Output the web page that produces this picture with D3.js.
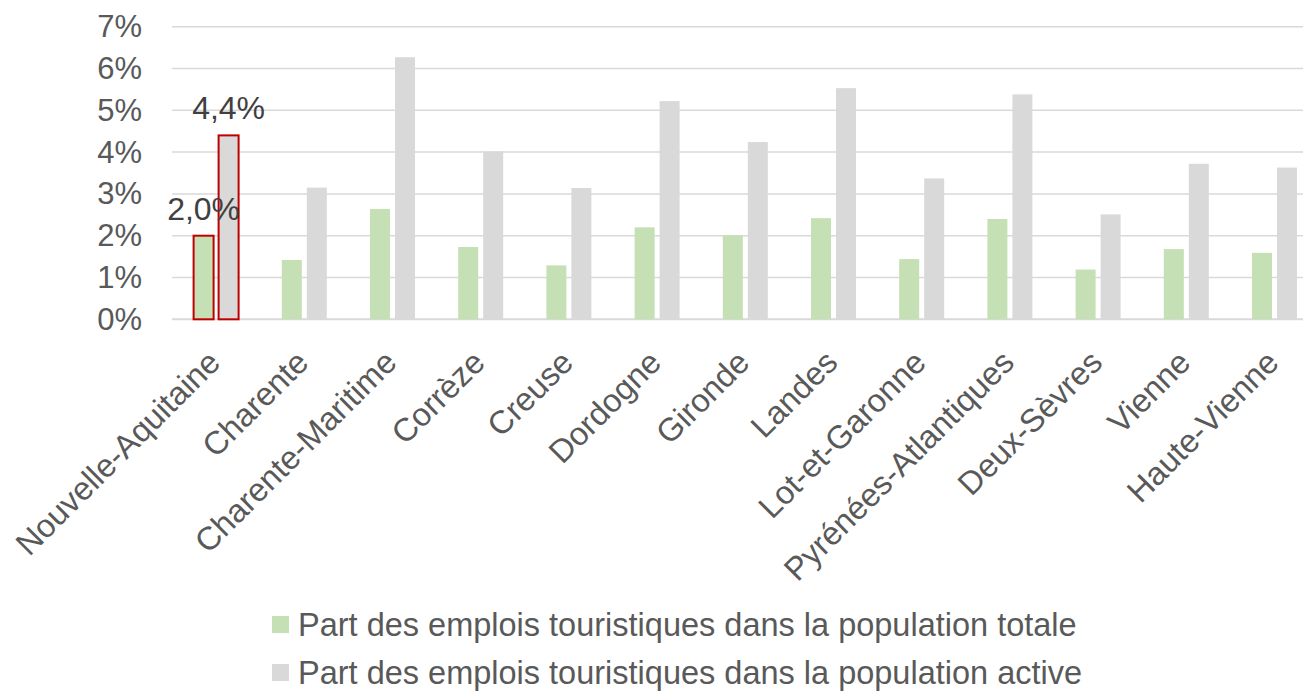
<!DOCTYPE html>
<meta charset="UTF-8">
<html lang="fr">
<head><link rel="icon" href="data:,"></head>
<style>
body {
  margin: 0;
  background: #FFFFFF;
}
svg text {
  font-family: "Liberation Sans", Arial, sans-serif;
  fill: #595959;
}
</style>
<script src="https://unpkg.com/d3@7.0.1/dist/d3.min.js"></script>
<body>
  <svg id="view"></svg>
</body>
<script>
const categories = ["Nouvelle-Aquitaine", "Charente", "Charente-Maritime", "Corrèze", "Creuse",
  "Dordogne", "Gironde", "Landes", "Lot-et-Garonne", "Pyrénées-Atlantiques",
  "Deux-Sèvres", "Vienne", "Haute-Vienne"];
const partTotale = [2.0, 1.42, 2.64, 1.73, 1.29, 2.20, 2.01, 2.42, 1.44, 2.40, 1.19, 1.68, 1.59];
const partActive = [4.4, 3.15, 6.27, 4.01, 3.14, 5.22, 4.24, 5.53, 3.37, 5.38, 2.51, 3.72, 3.63];
const yTicks = [0, 1, 2, 3, 4, 5, 6, 7];
const seriesNames = ["Part des emplois touristiques dans la population totale",
  "Part des emplois touristiques dans la population active"];
const seriesColors = ["#C5E0B4", "#D9D9D9"];
const highlight = "Nouvelle-Aquitaine";

const viewDims = { width: 1303, height: 691 };
const plot = { left: 172, right: 1318.6, top: 26.7, bottom: 319.3 };

const svg = d3.select("svg#view")
  .attr("width", viewDims.width)
  .attr("height", viewDims.height);

const x = d3.scaleBand().domain(categories).range([plot.left, plot.right]);
const sub = d3.scaleBand().domain([0, 1]).range([0, 45]).paddingInner(0.2);
const groupOffset = (x.bandwidth() - 45) / 2;
const y = d3.scaleLinear().domain([0, 7]).range([plot.bottom, plot.top]);

// gridlines
svg.append("g")
  .selectAll("line")
  .data(yTicks)
  .enter()
  .append("line")
  .attr("x1", plot.left)
  .attr("x2", plot.right)
  .attr("y1", d => y(d))
  .attr("y2", d => y(d))
  .attr("stroke", "#D9D9D9")
  .attr("stroke-width", d => d === 0 ? 2 : 1.5);

// y axis labels
const yAxis = svg.append("g")
  .attr("transform", `translate(${plot.left - 30},0)`)
  .call(d3.axisLeft(y).tickValues(yTicks).tickSize(0).tickFormat(d => `${d}%`));
yAxis.select(".domain").remove();
yAxis.selectAll("text")
  .attr("x", 0)
  .style("font-size", "31px")
  .style("fill", "#595959");

// bars
const rows = categories.map((c, i) => ({ cat: c, vals: [partTotale[i], partActive[i]] }));
const groups = svg.append("g")
  .selectAll("g")
  .data(rows)
  .enter()
  .append("g")
  .attr("transform", d => `translate(${x(d.cat) + groupOffset},0)`);

groups.selectAll("rect")
  .data(d => d.vals.map((v, k) => ({ v: v, k: k, cat: d.cat })))
  .enter()
  .append("rect")
  .attr("x", d => sub(d.k))
  .attr("width", sub.bandwidth())
  .attr("y", d => y(d.v))
  .attr("height", d => y(0) - y(d.v))
  .attr("fill", d => seriesColors[d.k])
  .attr("stroke", d => d.cat === highlight ? "#C00000" : "none")
  .attr("stroke-width", 2);

// data labels on the highlighted group
groups.filter(d => d.cat === highlight)
  .selectAll("text.val")
  .data(d => d.vals.map((v, k) => ({ v: v, k: k })))
  .enter()
  .append("text")
  .attr("class", "val")
  .attr("x", d => sub(d.k) + sub.bandwidth() / 2)
  .attr("y", d => y(d.v) - 16)
  .attr("text-anchor", "middle")
  .style("font-size", "32px")
  .style("fill", "#404040")
  .text(d => d.v.toFixed(1).replace(".", ",") + "%");

// category labels
const xAxis = svg.append("g")
  .attr("transform", `translate(0,${plot.bottom})`)
  .call(d3.axisBottom(x).tickSize(0).tickFormat(d => d));
xAxis.select(".domain").remove();
xAxis.selectAll("text")
  .attr("y", 0)
  .attr("dy", "0.35em")
  .attr("text-anchor", "end")
  .attr("transform", "translate(-2,37) rotate(-45)")
  .style("font-size", "32.5px")
  .style("fill", "#595959");

// legend
const legend = svg.append("g").attr("transform", "translate(272,0)");
const legendRows = legend.selectAll("g")
  .data(seriesNames)
  .enter()
  .append("g")
  .attr("transform", (d, i) => `translate(0,${624.5 + i * 48})`);
legendRows.append("rect")
  .attr("x", 0)
  .attr("y", -8.5)
  .attr("width", 17)
  .attr("height", 17)
  .attr("fill", (d, i) => seriesColors[i]);
legendRows.append("text")
  .attr("x", 26)
  .attr("y", 0)
  .attr("dy", "0.35em")
  .style("font-size", "32.5px")
  .text(d => d);
</script>
</html>
